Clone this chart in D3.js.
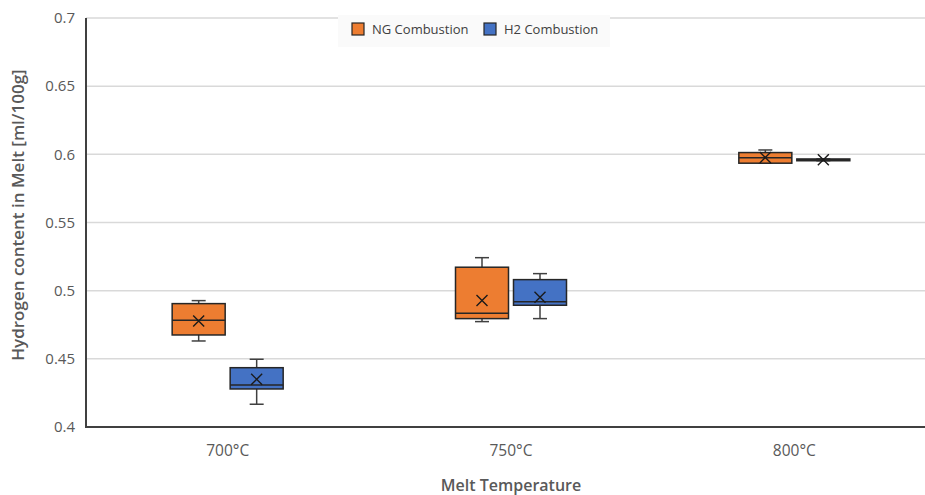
<!DOCTYPE html>
<html>
<head>
<meta charset="utf-8">
<script src="https://cdn.jsdelivr.net/npm/d3@7/dist/d3.min.js"></script>
<style>
  body { margin: 0; background: #fff; }
  text { font-family: "Open Sans", "Noto Sans", sans-serif; }
</style>
</head>
<body>
<svg id="chart" width="925" height="495"></svg>
<script>
var categories = ['700°C', '750°C', '800°C'];
var seriesNames = ['NG Combustion', 'H2 Combustion'];
var seriesColors = ['#ED7D31', '#4472C4'];
var yTicks = [0.4, 0.45, 0.5, 0.55, 0.6, 0.65, 0.7];

// box stats per category: [min, q1, median, q3, max, mean]
var ngStats = [
  [0.4631, 0.4675, 0.4783, 0.4905, 0.4927, 0.4778],
  [0.4773, 0.4795, 0.4834, 0.5172, 0.5242, 0.4927],
  [0.5935, 0.5935, 0.5975, 0.6013, 0.6032, 0.5977]
];
var h2Stats = [
  [0.4167, 0.4279, 0.4308, 0.4435, 0.4497, 0.4350],
  [0.4795, 0.4893, 0.4919, 0.5081, 0.5125, 0.4952],
  [0.5953, 0.5953, 0.5960, 0.5966, 0.5966, 0.5960]
];

(function() {
  var svg = d3.select('#chart');
  var plotLeft = 86, plotTop = 18, plotBottom = 427, plotRight = 925;

  var x = d3.scaleBand().domain(categories).range([plotLeft, 936]);
  var inner = d3.scaleBand().domain(seriesNames).range([-55.5, 55.5]).paddingInner(5 / 58);
  var y = d3.scaleLinear().domain([0.4, 0.7]).range([plotBottom, plotTop]);

  // gridlines
  svg.append('g').selectAll('line').data(yTicks.slice(1)).enter().append('line')
    .attr('x1', plotLeft).attr('x2', plotRight)
    .attr('y1', d => y(d)).attr('y2', d => y(d))
    .attr('stroke', '#d9d9d9').attr('stroke-width', 1.5);

  // y tick labels
  svg.append('g').selectAll('text').data(yTicks).enter().append('text')
    .attr('x', 75).attr('y', d => y(d)).attr('dy', '0.35em')
    .attr('text-anchor', 'end').attr('font-size', 15).attr('fill', '#595959')
    .text(d => String(d));

  // x labels
  svg.append('g').selectAll('text').data(categories).enter().append('text')
    .attr('x', d => x(d) + x.bandwidth() / 2).attr('y', 456)
    .attr('text-anchor', 'middle').attr('font-size', 15.5).attr('fill', '#595959')
    .text(d => d);

  // axis titles
  svg.append('text')
    .attr('transform', 'translate(24,' + 215 + ') rotate(-90)')
    .attr('text-anchor', 'middle').attr('font-size', 17).attr('font-weight', 600)
    .attr('fill', '#595959').text('Hydrogen content in Melt [ml/100g]');
  svg.append('text')
    .attr('x', 511).attr('y', 491).attr('text-anchor', 'middle')
    .attr('font-size', 16).attr('font-weight', 600).attr('fill', '#595959')
    .text('Melt Temperature');

  // boxes
  var boxes = [];
  [ngStats, h2Stats].forEach(function(stats, si) {
    stats.forEach(function(s, ci) {
      boxes.push({ series: seriesNames[si], color: seriesColors[si], cat: categories[ci], s: s });
    });
  });

  var g = svg.append('g').selectAll('g').data(boxes).enter().append('g')
    .attr('transform', d => 'translate(' + (x(d.cat) + x.bandwidth() / 2 + inner(d.series)) + ',0)');
  var bw = inner.bandwidth();
  var cap = 14;

  g.append('line').attr('x1', bw / 2).attr('x2', bw / 2)
    .attr('y1', d => y(d.s[0])).attr('y2', d => y(d.s[4]))
    .attr('stroke', '#404040').attr('stroke-width', 1.5);
  g.append('line').attr('x1', bw / 2 - cap / 2).attr('x2', bw / 2 + cap / 2)
    .attr('y1', d => y(d.s[4])).attr('y2', d => y(d.s[4]))
    .attr('stroke', '#404040').attr('stroke-width', 1.5);
  g.append('line').attr('x1', bw / 2 - cap / 2).attr('x2', bw / 2 + cap / 2)
    .attr('y1', d => y(d.s[0])).attr('y2', d => y(d.s[0]))
    .attr('stroke', '#404040').attr('stroke-width', 1.5);
  g.append('rect').attr('x', 0).attr('width', bw)
    .attr('y', d => y(d.s[3])).attr('height', d => Math.max(0.5, y(d.s[1]) - y(d.s[3])))
    .attr('fill', d => d.color).attr('stroke', '#262626').attr('stroke-width', 1.5);
  g.append('line').attr('x1', 0).attr('x2', bw)
    .attr('y1', d => y(d.s[2])).attr('y2', d => y(d.s[2]))
    .attr('stroke', '#262626').attr('stroke-width', 1.5);
  // mean marker
  var m = 5.5;
  g.append('path')
    .attr('d', d => {
      var cx = bw / 2, cy = y(d.s[5]);
      return 'M' + (cx - m) + ',' + (cy - m) + 'L' + (cx + m) + ',' + (cy + m) +
        'M' + (cx - m) + ',' + (cy + m) + 'L' + (cx + m) + ',' + (cy - m);
    })
    .attr('stroke', '#1a1a1a').attr('stroke-width', 1.4).attr('fill', 'none');

  // axis lines
  svg.append('line').attr('x1', plotLeft).attr('x2', plotLeft).attr('y1', plotTop).attr('y2', plotBottom)
    .attr('stroke', '#404040').attr('stroke-width', 2);
  svg.append('line').attr('x1', plotLeft - 1).attr('x2', plotRight).attr('y1', plotBottom).attr('y2', plotBottom)
    .attr('stroke', '#404040').attr('stroke-width', 2);

  // legend
  var legend = svg.append('g');
  legend.append('rect').attr('x', 338).attr('y', 15).attr('width', 272).attr('height', 32)
    .attr('fill', '#fafafa');
  var lx = [352, 484];
  seriesNames.forEach(function(name, i) {
    legend.append('rect').attr('x', lx[i]).attr('y', 23).attr('width', 12).attr('height', 12)
      .attr('fill', seriesColors[i]).attr('stroke', '#262626').attr('stroke-width', 1.2);
    legend.append('text').attr('x', lx[i] + 20).attr('y', 29).attr('dy', '0.35em')
      .attr('font-size', 13).attr('fill', '#404040').text(name);
  });
})();
</script>
</body>
</html>
